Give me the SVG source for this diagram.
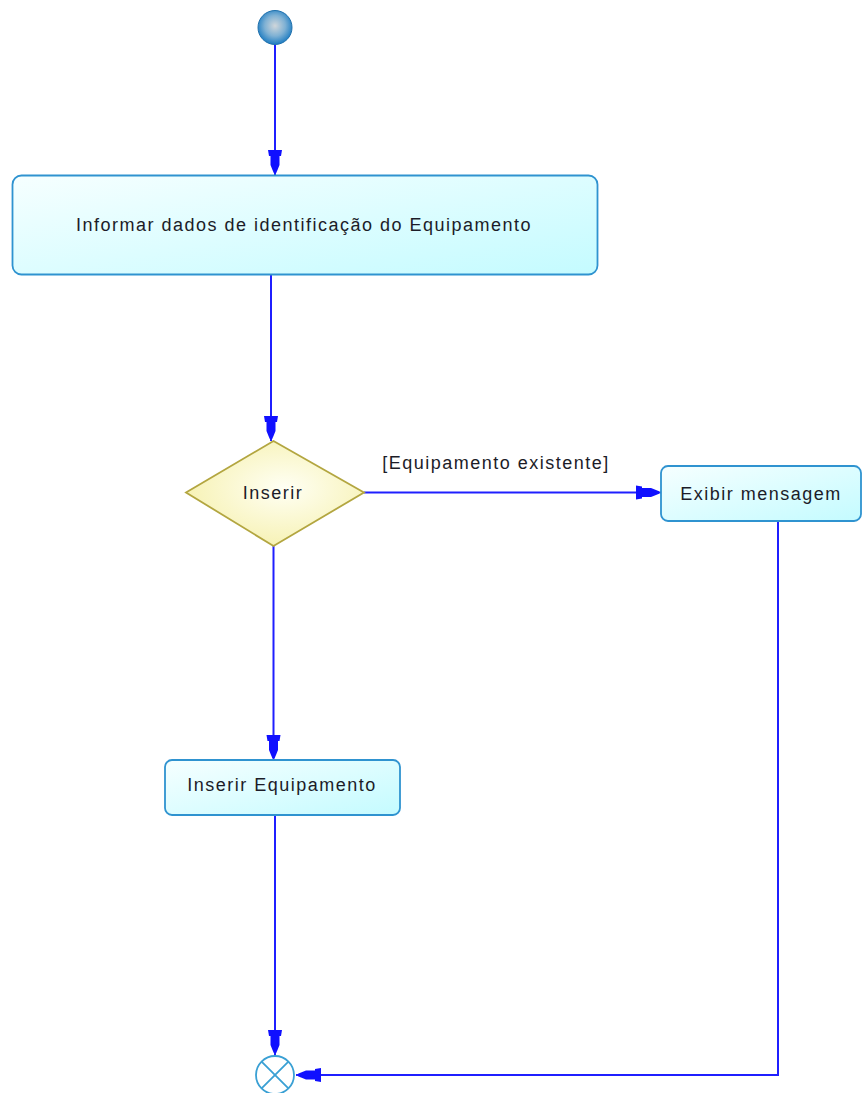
<svg xmlns="http://www.w3.org/2000/svg" width="862" height="1093" viewBox="0 0 862 1093">
<style>
.lbl{font-family:"Liberation Sans",Arial,sans-serif;font-size:18px;letter-spacing:1.5px;fill:#1c1c28;text-anchor:middle}
.act{stroke:#2f93d0;stroke-width:1.8}
.conn{fill:none;stroke:#1f1fff;stroke-width:2}
</style>
<defs>
<linearGradient id="gAct" x1="0" y1="0" x2="1" y2="1">
<stop offset="0" stop-color="#f6ffff"/>
<stop offset="1" stop-color="#c4fbff"/>
</linearGradient>
<radialGradient id="gDec" cx="0.55" cy="0.45" r="0.6">
<stop offset="0" stop-color="#fffff4"/>
<stop offset="1" stop-color="#f6f1b0"/>
</radialGradient>
<radialGradient id="gInit" cx="0.5" cy="0.45" r="0.55">
<stop offset="0" stop-color="#d0d6da"/>
<stop offset="0.55" stop-color="#7fb1d4"/>
<stop offset="1" stop-color="#1d7cc2"/>
</radialGradient>
<marker id="arr" markerUnits="userSpaceOnUse" viewBox="-28 -8 30 16" markerWidth="30" markerHeight="16" refX="0" refY="0" orient="auto">
<polygon points="-25,-7 -19,-6 -19,-4.5 -10,-4.5 -5,-2.5 -2,-1.2 -2,1.2 -5,2.5 -10,4.5 -19,4.5 -19,6 -25,7" fill="#1010ff"/>
</marker>
</defs>
<g id="connectors">
<path class="conn" d="M275,45 L275,175" marker-end="url(#arr)"/>
<path class="conn" d="M271,275 L271,441" marker-end="url(#arr)"/>
<path class="conn" d="M364,492.5 L661,492.5" marker-end="url(#arr)"/>
<path class="conn" d="M273.5,546 L273.5,760" marker-end="url(#arr)"/>
<path class="conn" d="M275,815 L275,1055" marker-end="url(#arr)"/>
<path class="conn" d="M778,521 L778,1075 L296,1075" marker-end="url(#arr)"/>
<text class="lbl" x="496" y="469">[Equipamento existente]</text>
</g>
<g id="start">
<circle cx="275" cy="27.5" r="17" fill="url(#gInit)" stroke="#1f70ac" stroke-width="1"/>
</g>
<g id="informar">
<rect class="act" x="12.5" y="175.5" width="585" height="99" rx="9" fill="url(#gAct)"/>
<text class="lbl" x="304" y="231">Informar dados de identificação do Equipamento</text>
</g>
<g id="decisao">
<polygon points="273.5,441 364,492.5 273.5,546 186,492.5" fill="url(#gDec)" stroke="#b3a640" stroke-width="1.8"/>
<text class="lbl" x="273" y="499">Inserir</text>
</g>
<g id="exibir">
<rect class="act" x="661" y="466" width="200" height="55" rx="7" fill="url(#gAct)"/>
<text class="lbl" x="761" y="500">Exibir mensagem</text>
</g>
<g id="inserirEquip">
<rect class="act" x="165" y="760" width="235" height="55" rx="7" fill="url(#gAct)"/>
<text class="lbl" x="282" y="791">Inserir Equipamento</text>
</g>
<g id="fim">
<circle cx="275" cy="1075" r="19" fill="#ffffff" stroke="#3aa0d4" stroke-width="1.8"/>
<path d="M261.6,1061.6 L288.4,1088.4 M288.4,1061.6 L261.6,1088.4" stroke="#3aa0d4" stroke-width="1.8"/>
</g>
</svg>
